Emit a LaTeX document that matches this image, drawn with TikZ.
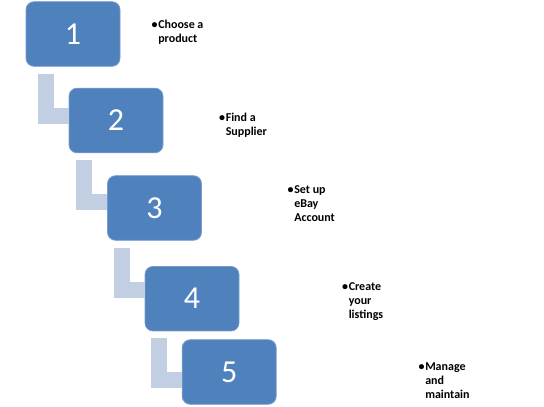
\documentclass[tikz,border=0pt]{standalone}
\usepackage{xcolor}
\usepackage{fontspec}
\setmainfont{Carlito}
\usepackage{tikz}
\definecolor{stepblue}{RGB}{79,129,189}
\definecolor{stepedge}{RGB}{118,156,206}
\definecolor{linkblue}{RGB}{194,206,226}
\tikzset{
 stepbox/.style={
 rectangle,
 rounded corners=6pt,
 draw=stepedge,
 fill=stepblue,
 line width=0.6pt,
 minimum width=70.5pt,
 minimum height=48.4pt,
 inner sep=0pt,
 text=white,
 font=\fontsize{24}{24}\selectfont
 },
 steplink/.style={line width=12pt, draw=linkblue},
 % base anchor sits on the last line
 stepnote/.style={
 anchor=base west,
 align=left,
 inner sep=0pt,
 font=\fontsize{9}{10.5}\selectfont\bfseries
 }
}

\begin{document}
\begin{tikzpicture}[x=0.75pt,y=-0.75pt]
 \useasboundingbox (0,0) rectangle (544,407);
 \node[stepbox] (one) at (73,34) {1};
 \node[stepbox] (two) at (116,120.5) {2};
 \node[stepbox] (three) at (154.5,208) {3};
 \node[stepbox] (four) at (192,298.7) {4};
 \node[stepbox] (five) at (229.2,372) {5};
 \draw[steplink] ([shift={(-23,7)}]two.west |- one.south) |- ([shift={(0,49)}]one.south -| two.west);
 \draw[steplink] ([shift={(-23,7)}]three.west |- two.south) |- ([shift={(0,49)}]two.south -| three.west);
 \draw[steplink] ([shift={(-23,7)}]four.west |- three.south) |- ([shift={(0,49)}]three.south -| four.west);
 \draw[steplink] ([shift={(-23,7)}]five.west |- four.south) |- ([shift={(0,49)}]four.south -| five.west);
 \node[stepnote] (choose) at (158,42.5) {\llap{•\hspace{0.5pt}}Choose a\\product};
 \node[stepnote] (find) at (225.5,135.5) {\llap{•\hspace{0.5pt}}Find a\\Supplier};
 \node[stepnote] (setup) at (294,221.5) {\llap{•\hspace{0.5pt}}Set up\\eBay\\Account};
 \node[stepnote] (create) at (348.5,318) {\llap{•\hspace{0.5pt}}Create\\your\\listings};
 \node[stepnote] (manage) at (425,398) {\llap{•\hspace{0.5pt}}Manage\\and\\maintain};
\end{tikzpicture}
\end{document}
